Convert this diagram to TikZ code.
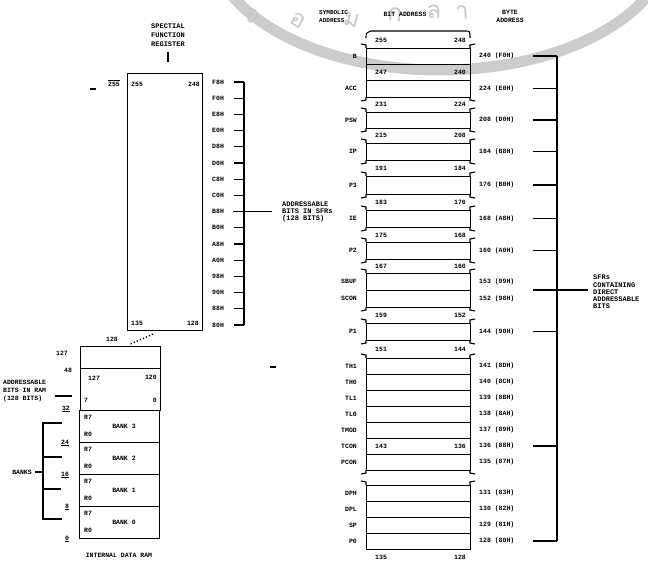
\documentclass[tikz,border=0pt]{standalone}
\usepackage{fontspec}
\usetikzlibrary{calc}
\newfontfamily\monob{Liberation Mono}
\newfontfamily\thaiwm[Script=Thai]{Loma}
\tikzset{
  t/.style={font=\monob\bfseries\fontsize{6.5}{7}\selectfont, inner sep=0pt},
  tl/.style={font=\monob\bfseries\fontsize{7}{7.3}\selectfont, inner sep=0pt, align=left},
  tc/.style={font=\monob\bfseries\fontsize{7}{9}\selectfont, inner sep=0pt, align=center},
  bx/.style={draw, line width=1.1pt, inner sep=0pt, anchor=north west},
  ln/.style={line width=1.1pt},
  wm/.style={black!20},
  wmt/.style={font=\thaiwm\fontsize{24}{24}\selectfont, text=black!22, inner sep=0pt},
}
\begin{document}
\begin{tikzpicture}[x=1pt,y=-1pt]
\useasboundingbox (0,0) rectangle (648,562);
% watermark
\draw[wm, line width=11pt] (440,-60) ellipse [x radius=230, y radius=130];
\foreach \g/\xx/\yy/\rr in {จ/252/16/-40, อ/298/20/-30, ม/352/20/-14, ก/395/15/-6, ล/434/12/0, า/462/12/3}
  \node[wmt, rotate=\rr] (wm\xx) at (\xx,\yy) {\g};

% ---------------- SFR block (left) ----------------
\node[tc] (sfrhdr) at (168,35) {SPECTIAL\\FUNCTION\\REGISTER};
\coordinate (sfrarr) at (168,62);
\draw[ln] ([yshift=-5pt]sfrhdr.south) -- (sfrarr);
\node[bx, minimum width=75pt, minimum height=257pt] (sfr) at (127,73) {};
\node[t, anchor=west] (s255) at (131,84) {255};
\node[t, anchor=east] (s248) at (200,84) {248};
\node[t, anchor=west] (s135) at (131,323) {135};
\node[t, anchor=east] (s128) at (199,323) {128};
\node[t] (o255) at (114,83) {$\overline{\mbox{255}}$};
\coordinate (d1a) at (90,89); \coordinate (d1b) at (96,89);
\draw[ln] (d1a) -- (d1b);

\coordinate (hv) at (244,0);
\foreach \lab [count=\i from 0] in {F8H,F0H,E8H,E0H,D8H,D0H,C8H,C0H,B8H,B0H,A8H,A0H,98H,90H,88H,80H}{
  \pgfmathsetmacro\yy{82+16.2*\i}
  \node[t, anchor=west] (h\i) at (212,\yy) {\lab};
  \draw[ln] ([xshift=10pt]h\i.east) -- (h\i.east -| hv);
}
\draw[ln] (h0.east -| hv) -- (h15.east -| hv);
\node[tl, anchor=west] (sfrlbl) at (282,212) {ADDRESSABLE\\BITS IN SFRs\\(128 BITS)};
\draw[ln] ([xshift=9pt]h8.east) -- ([xshift=-10pt]h8.east -| sfrlbl.west);
\coordinate (d2a) at (270,367); \coordinate (d2b) at (276,367);
\draw[ln] (d2a) -- (d2b);

% ---------------- internal RAM (lower left) ----------------
\node[bx, minimum width=80pt, minimum height=22pt] (bt) at (80,346) {};
\node[bx, minimum width=80pt, minimum height=42pt] (bb) at (80,368) {};
\draw[line width=1.3pt, dotted] ([xshift=-12pt,yshift=-3pt]sfr.south) -- ([xshift=10pt,yshift=2pt]bt.north);
\node[t] (a128) at (112,339) {128};
\node[t, anchor=west] (b127) at (88,378) {127};
\node[t, anchor=east] (b120) at (157,377) {120};
\node[t, anchor=west] (b7) at (84,400) {7};
\node[t, anchor=east] (b0) at (157,400) {0};

\foreach \n/\ya in {3/410,2/442,1/474,0/506}{
  \node[bx, minimum width=80pt, minimum height=32pt] (bank\n) at (79,\ya) {};
  \node[t, anchor=west] (r7\n) at (84,\ya+7) {R7};
  \node[t, anchor=west] (r0\n) at (84,\ya+24) {R0};
  \node[t] (bn\n) at (124,\ya+16) {BANK \n};
}
\node[t] (l127) at (62,353) {127};
\node[t] (l48) at (68,370) {48};
\node[t] (l32) at (66,409) {\underline{32}};
\node[t] (l24) at (65,443) {\underline{24}};
\node[t] (l16) at (65,475) {\underline{16}};
\node[t] (l8) at (67,507) {\underline{8}};
\node[t] (l0) at (67,539) {\underline{0}};

\node[tl, anchor=west, font=\monob\bfseries\fontsize{6.5}{8}\selectfont] (ramlbl) at (3,391) {ADDRESSABLE\\BITS IN RAM\\(128 BITS)};
\coordinate (ramtick) at (72,396);
\draw[ln] ([xshift=9pt,yshift=-5pt]ramlbl.east) -- (ramtick);

\coordinate (bv1) at (43,423); \coordinate (bv2) at (43,457);
\coordinate (bv3) at (43,489); \coordinate (bv4) at (43,519);
\draw[ln] (62,423) -- (bv1) -- (bv4) -- (62,519);
\draw[ln] (bv2) -- (62,457);
\draw[ln] (bv3) -- (61,489);
\node[t, anchor=east] (banks) at (32,472) {BANKS};
\draw[ln] ([xshift=3pt]banks.east) -- (banks.east -| bv1);

\node[t] (idr) at (119,555) {INTERNAL DATA RAM};

% ---------------- SFR map (right) ----------------
\node[t, align=left, anchor=west, font=\monob\bfseries\fontsize{6}{8}\selectfont] (hsym) at (319,17) {SYMBOLIC\\ADDRESS};
\node[t] (hbit) at (405,14) {BIT ADDRESS};
\node[t, align=center, font=\monob\bfseries\fontsize{6.5}{8}\selectfont] (hbyte) at (510,16) {BYTE\\ADDRESS};

\foreach \nm/\ya/\yb/\by in {B/48/64/240 (F0H),ACC/80/97/224 (E0H),PSW/112/128/208 (D0H),IP/143/160/184 (B8H),P3/176/194/176 (B0H),IE/210/227/168 (A8H),P2/242/259/160 (A0H),SBUF/273/290/153 (99H),SCON/290/307/152 (98H),P1/323/340/144 (90H),TH1/358/374/141 (8DH),TH0/374/390/140 (8CH),TL1/390/406/139 (8BH),TL0/406/422/138 (8AH),TMOD/422/438/137 (89H),TCON/438/454/136 (88H),PCON/454/470/135 (87H),DPH/485/501/131 (83H),DPL/501/517/130 (82H),SP/517/533/129 (81H),P0/533/549/128 (80H)}{
  \pgfmathsetmacro\hh{\yb-\ya}
  \pgfmathsetmacro\ym{(\ya+\yb)/2}
  \node[bx, minimum width=104pt, minimum height=\hh pt] (r\nm) at (366,\ya) {};
  \node[t, anchor=east] (s\nm) at (357,\ym) {\nm};
  \node[t, anchor=west] (y\nm) at (479,\ym) {\by};
}
\node[bx, minimum width=104pt, minimum height=16pt] (c247) at (366,64) {};

\foreach \a/\b/\yy in {255/248/40, 247/240/72, 231/224/104, 215/208/135, 191/184/168, 183/176/202, 175/168/235, 167/160/266, 159/152/315, 151/144/349, 143/136/446, 135/128/557}{
  \node[t, anchor=west] (bl\a) at (375,\yy) {\a};
  \node[t, anchor=east] (br\a) at (466,\yy) {\b};
}

% top bracket
\draw[ln] (366,38) .. controls (366,33) .. (371,31) -- (465,31) .. controls (470,31) .. (470,38);
\draw[ln] (361,44) -- (366,45) -- (366,48);
\draw[ln] (475,44) -- (470,45) -- (470,48);
% break marks
\foreach \ga/\gb in {97/112, 128/143, 160/176, 194/210, 227/242, 259/273, 307/323, 340/358, 470/485}{
  \draw[ln] (366,\ga) -- (366,\ga+3) -- (361,\ga+4);
  \draw[ln] (361,\gb-4) -- (366,\gb-3) -- (366,\gb);
  \draw[ln] (470,\ga) -- (470,\ga+3) -- (475,\ga+4);
  \draw[ln] (475,\gb-4) -- (470,\gb-3) -- (470,\gb);
}

% right bracket
\coordinate (vx) at (557,0);
\foreach \nm in {B,ACC,PSW,IP,P3,IE,P2,P1,TCON,P0}
  \draw[ln] ([xshift=18pt]y\nm.east) -- (y\nm.east -| vx);
\draw[ln] (yB.east -| vx) -- (yP0.east -| vx);
\node[tl, anchor=west] (sfrbits) at (593,292) {SFRs\\CONTAINING\\DIRECT\\ADDRESSABLE\\BITS};
\coordinate (mid) at ($(ySBUF.east)!0.5!(ySCON.east)$);
\draw[ln] ([xshift=18pt]mid) -- ([xshift=-5pt]mid -| sfrbits.west);
\end{tikzpicture}
\end{document}
